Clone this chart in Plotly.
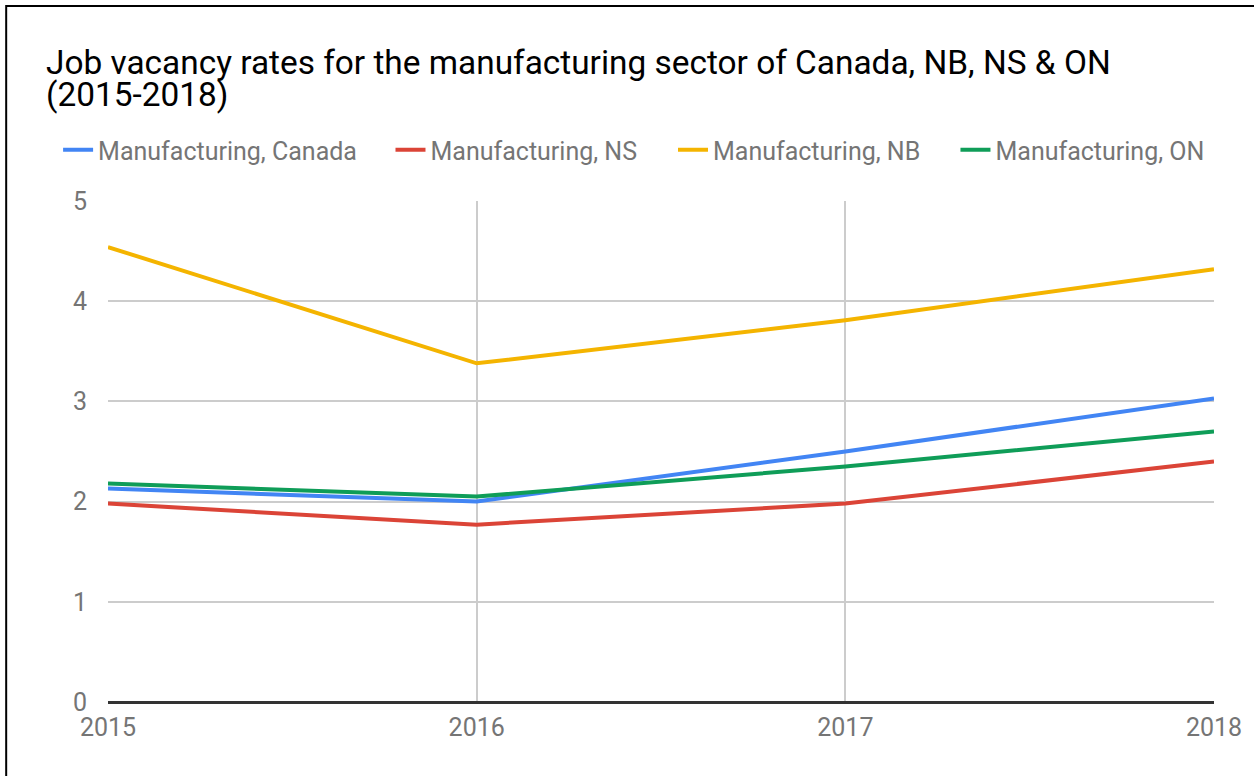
import plotly.graph_objects as go

# Job vacancy rates (%) in manufacturing, by region
years = [2015, 2016, 2017, 2018]
canada = [2.13, 2.00, 2.50, 3.03]
ns = [1.98, 1.77, 1.98, 2.40]
nb = [4.54, 3.38, 3.81, 4.32]
on = [2.18, 2.05, 2.35, 2.70]

series = [
    ("Manufacturing, Canada", canada, "#4285F4"),
    ("Manufacturing, NS", ns, "#DB4437"),
    ("Manufacturing, NB", nb, "#F4B400"),
    ("Manufacturing, ON", on, "#0F9D58"),
]

W, H = 1254, 776
L, R, T, B = 108, 1216, 201, 702

# left edge (px) of each legend entry
legend_left = [58, 391, 674, 957]

fig = go.Figure()
legend_ids = ["legend", "legend2", "legend3", "legend4"]
for (name, vals, color), lid in zip(series, legend_ids):
    fig.add_trace(go.Scatter(
        x=years, y=vals, name=name, mode="lines",
        line=dict(color=color, width=4), legend=lid,
    ))

title_font = dict(family="Roboto", size=33.4, color="#000000")
fig.add_annotation(text="Job vacancy rates for the manufacturing sector of Canada, NB, NS & ON",
                   xref="paper", yref="paper", x=(44 - L) / (R - L), y=(B - 62) / (B - T),
                   xanchor="left", yanchor="middle", showarrow=False, font=title_font)
fig.add_annotation(text="(2015-2018)",
                   xref="paper", yref="paper", x=(44 - L) / (R - L), y=(B - 95) / (B - T),
                   xanchor="left", yanchor="middle", showarrow=False, font=title_font)

# outer frame
fig.add_shape(type="rect", xref="paper", yref="paper",
              x0=(6 - L) / (R - L), x1=1.2, y0=-0.5, y1=(B - 6) / (B - T),
              line=dict(color="#000000", width=2), fillcolor="rgba(0,0,0,0)", layer="below")

legend_style = dict(orientation="h", xanchor="left", yanchor="middle",
                    y=(B - 150) / (B - T),
                    font=dict(family="Roboto", size=25, color="#757575"),
                    itemwidth=30, bgcolor="rgba(0,0,0,0)")

layout_legends = {lid: dict(legend_style, x=(px - L) / (R - L))
                  for lid, px in zip(legend_ids, legend_left)}

fig.update_layout(
    width=W, height=H,
    margin=dict(l=L, r=W - R, t=T, b=H - B, pad=0),
    paper_bgcolor="white", plot_bgcolor="white",
    font=dict(family="Roboto", color="#757575", size=25),
    showlegend=True,
    xaxis=dict(range=[2015, 2018], tickvals=years, ticktext=[str(y) for y in years],
               showgrid=True, gridcolor="#cccccc", gridwidth=2,
               zeroline=False, showline=False, ticks="",
               tickfont=dict(size=25, color="#757575"), ticklabelstandoff=8),
    yaxis=dict(range=[0, 5], tickvals=[0, 1, 2, 3, 4, 5],
               showgrid=True, gridcolor="#cccccc", gridwidth=2,
               zeroline=True, zerolinecolor="#333333", zerolinewidth=3,
               showline=False, ticks="",
               tickfont=dict(size=25, color="#757575"), ticklabelstandoff=20),
    **layout_legends,
)

fig.write_html("out.html")
